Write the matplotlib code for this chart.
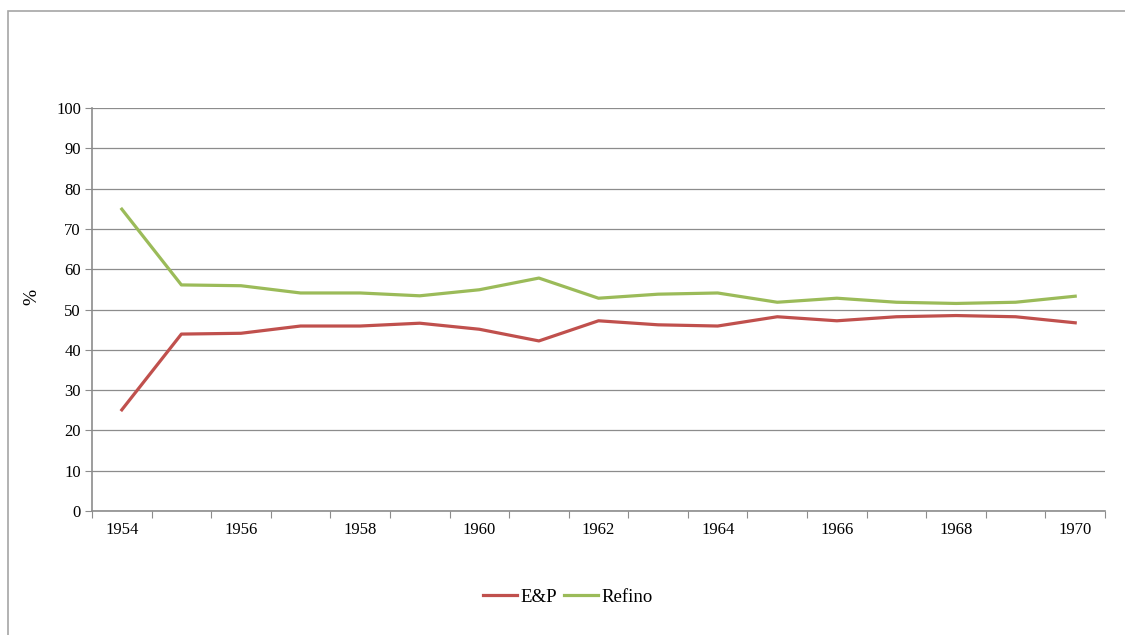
import matplotlib.pyplot as plt
from matplotlib.patches import Rectangle

years = list(range(1954, 1971))
ep = [25.1, 43.9, 44.1, 45.9, 45.9, 46.6, 45.1, 42.2, 47.2, 46.2, 45.9, 48.2, 47.2, 48.2, 48.5, 48.2, 46.7]
refino = [74.9, 56.1, 55.9, 54.1, 54.1, 53.4, 54.9, 57.8, 52.8, 53.8, 54.1, 51.8, 52.8, 51.8, 51.5, 51.8, 53.3]
yticks = list(range(0, 101, 10))

plt.rcParams['font.family'] = ['Liberation Serif', 'DejaVu Serif']

W, H = 1125, 635
fig = plt.figure(figsize=(W / 100, H / 100), dpi=100)

# outer chart frame, running off the right and bottom edges
fig.patches.append(Rectangle((8 / W, -0.1), 1.2, 1 - 11 / H + 0.1,
                             transform=fig.transFigure, fill=False,
                             edgecolor='#A6A6A6', linewidth=1.2))

ax = fig.add_axes([92 / W, 1 - 511 / H, (1105 - 92) / W, (511 - 108) / H])

x = list(range(len(years)))
ax.plot(x, ep, color='#C0504D', linewidth=2.3, label='E&P', solid_joinstyle='round')
ax.plot(x, refino, color='#9BBB59', linewidth=2.3, label='Refino', solid_joinstyle='round')

ax.set_xlim(-0.5, len(years) - 0.5)
ax.set_ylim(0, 100)
ax.set_yticks(yticks)
ax.yaxis.grid(True, color='#8C8C8C', linewidth=0.9)
ax.set_axisbelow(True)

# category boundaries get tick marks, every other year gets a label
ax.set_xticks([i - 0.5 for i in range(len(years) + 1)])
ax.set_xticklabels([])
ax.set_xticks(x[::2], minor=True)
ax.set_xticklabels([str(y) for y in years[::2]], minor=True, fontsize=12)
ax.tick_params(axis='x', which='minor', length=0, pad=8)
ax.tick_params(axis='x', which='major', length=5, color='#8C8C8C', direction='out')
ax.tick_params(axis='y', length=5, color='#8C8C8C', labelsize=12, pad=3)

for s in ('top', 'right'):
    ax.spines[s].set_visible(False)
for s in ('left', 'bottom'):
    ax.spines[s].set_color('#8C8C8C')
    ax.spines[s].set_linewidth(1.2)

ax.set_ylabel('%', fontsize=14)
ax.yaxis.set_label_coords((40 - 92) / (1105 - 92), 0.53)

fig.legend(loc='center', bbox_to_anchor=(568 / W, 1 - 597 / H), ncol=2,
           frameon=False, fontsize=13.5, handlelength=1.8, handletextpad=0.2,
           columnspacing=0.4)

fig.savefig('out.png', dpi=100)
